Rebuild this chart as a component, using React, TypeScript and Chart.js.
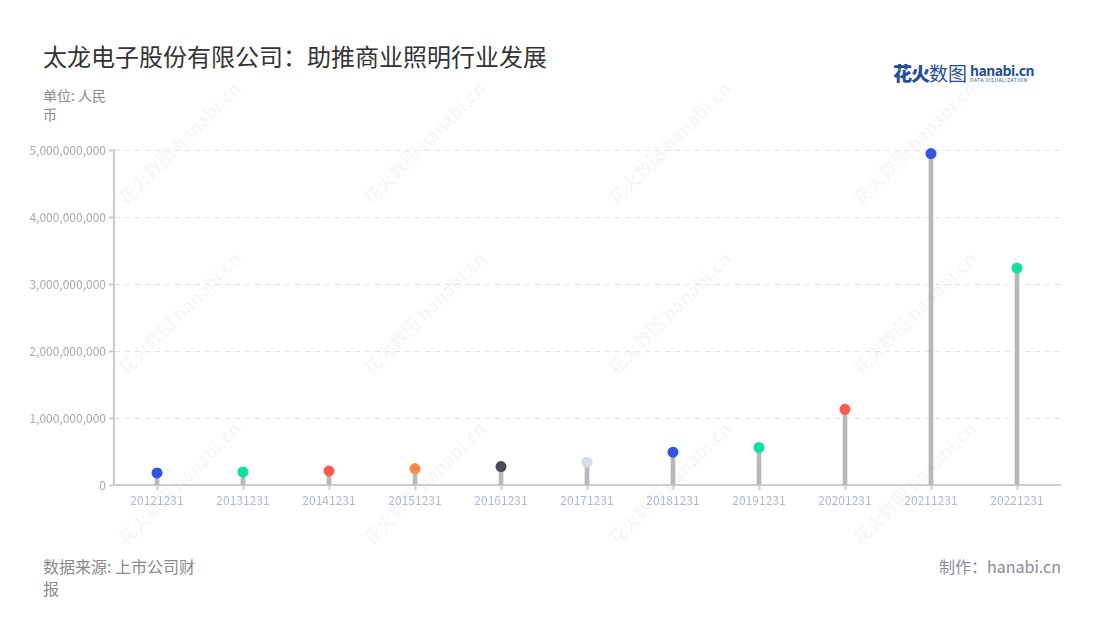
import React, { useEffect, useRef } from "react";
import { Chart, registerables } from "chart.js";

Chart.register(...registerables);

const categories = ["20121231", "20131231", "20141231", "20151231", "20161231", "20171231", "20181231", "20191231", "20201231", "20211231", "20221231"];
const revenue = [180000000, 195000000, 210000000, 245000000, 275000000, 340000000, 490000000, 560000000, 1130000000, 4950000000, 3240000000];
const dotColors = ["#3352e6", "#0fe0a0", "#ff5a4e", "#ff8a4a", "#4b4b55", "#d8dce6", "#3352e6", "#0fe0a0", "#ff5a4e", "#3352e6", "#0fe0a0"];
const yTicks = [0, 1000000000, 2000000000, 3000000000, 4000000000, 5000000000];

const FONT = '"Noto Sans CJK SC", "Noto Sans", sans-serif';

const watermarkPos: [number, number][] = [];
for (const y of [150, 320, 490]) {
  for (const x of [170, 415, 660, 905]) watermarkPos.push([x, y]);
}

export default function App() {
  const ref = useRef<HTMLCanvasElement>(null);
  useEffect(() => {
    if (!ref.current) return;
    const chart = new Chart(ref.current, {
      data: {
        labels: categories,
        datasets: [
          {
            type: "line",
            data: revenue,
            showLine: false,
            clip: false,
            pointRadius: 5.5,
            pointHoverRadius: 5.5,
            pointBorderWidth: 0,
            pointBackgroundColor: dotColors,
            pointBorderColor: dotColors,
            order: 0,
          } as any,
          {
            type: "bar",
            data: revenue,
            backgroundColor: "#b8b8b8",
            barThickness: 4,
            order: 1,
          } as any,
        ],
      },
      options: {
        animation: false,
        responsive: false,
        maintainAspectRatio: false,
        layout: { padding: { left: 0, right: 40, top: 10, bottom: 0 } },
        plugins: { legend: { display: false }, tooltip: { enabled: false } },
        scales: {
          x: {
            offset: true,
            grid: { offset: false, drawOnChartArea: false, tickLength: 5, tickColor: "#cccccc", tickWidth: 2 },
            border: { color: "#cccccc", width: 2 },
            ticks: { color: "#b3b8c8", font: { family: FONT, size: 12 }, padding: 3, maxRotation: 0, autoSkip: false },
            afterFit: (s: any) => { s.height = 35; },
          },
          y: {
            min: 0,
            max: 5000000000,
            afterBuildTicks: (s: any) => { s.ticks = yTicks.map((v) => ({ value: v })); },
            grid: { color: "#e3e3e3", tickLength: 5, tickColor: "#cccccc", tickWidth: 2, lineWidth: 1 },
            border: { color: "#cccccc", width: 2, dash: [5, 5] as any },
            ticks: {
              color: "#aaaaaa",
              font: { family: FONT, size: 12 },
              padding: 3,
              callback: (v: any) => Number(v).toLocaleString("en-US"),
            },
            afterFit: (s: any) => { s.width = 114; },
          },
        },
      } as any,
    });
    return () => chart.destroy();
  }, []);

  return (
    <div style={{ position: "fixed", left: 0, top: 0, width: 1100, height: 620, background: "#fff", fontFamily: FONT, overflow: "hidden" }}>
      {watermarkPos.map(([x, y], i) => (
        <div key={i} style={{ position: "absolute", left: x - 70, top: y - 12, width: 140, textAlign: "center", transform: "rotate(-45deg)", color: "rgba(0,0,0,0.045)", fontSize: 18, fontWeight: 700, whiteSpace: "nowrap", pointerEvents: "none" }}>
          花火数图 hanabi.cn
        </div>
      ))}
      <div style={{ position: "absolute", left: 43, top: 38, fontSize: 24, color: "#333333", whiteSpace: "nowrap" }}>
        太龙电子股份有限公司：助推商业照明行业发展
      </div>
      <div style={{ position: "absolute", left: 43, top: 86, fontSize: 14, color: "#8a8a8a", lineHeight: "19px" }}>
        单位: 人民<br />币
      </div>
      <div style={{ position: "absolute", left: 893, top: 59, display: "flex", alignItems: "center", color: "#1f4e9c", whiteSpace: "nowrap" }}>
        <span style={{ fontSize: 19, fontWeight: 900, letterSpacing: -1 }}>花火</span>
        <span style={{ fontSize: 19, fontWeight: 400, marginRight: 3 }}>数图</span>
        <span style={{ display: "flex", flexDirection: "column", lineHeight: 1 }}>
          <span style={{ fontSize: 14, fontWeight: 700, letterSpacing: -0.5 }}>hanabi.cn</span>
          <span style={{ fontSize: 5, letterSpacing: 0.5 }}>DATA VISUALIZATION</span>
        </span>
      </div>
      <canvas ref={ref} width={1100} height={380} style={{ position: "absolute", left: 0, top: 140, width: 1100, height: 380 }} />
      <div style={{ position: "absolute", left: 43, top: 555, fontSize: 16, color: "#8a8a8a", lineHeight: "22px" }}>
        数据来源: 上市公司财<br />报
      </div>
      <div style={{ position: "absolute", right: 39, top: 555, fontSize: 16, color: "#8a8a96", lineHeight: "22px", whiteSpace: "nowrap" }}>
        制作：hanabi.cn
      </div>
    </div>
  );
}
